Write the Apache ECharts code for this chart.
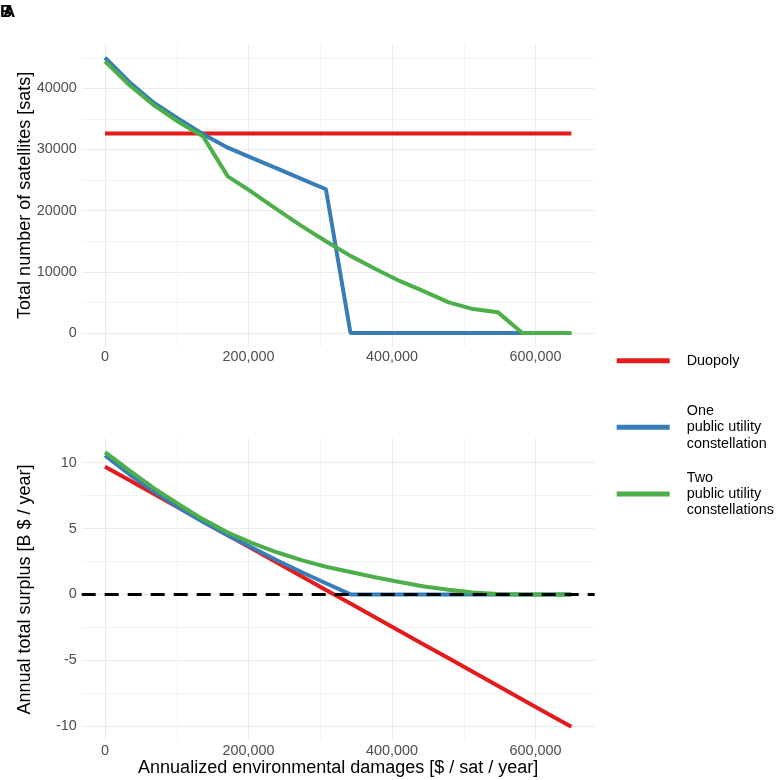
<!DOCTYPE html>
<html>
<head>
<meta charset="utf-8">
<script src="https://cdn.jsdelivr.net/npm/echarts@6/dist/echarts.min.js"></script>
<style>html,body{margin:0;padding:0;background:#fff}#c{width:777px;height:780px}</style>
</head>
<body>
<div id="c"></div>
<script>
// ---- data ----
const damages = [0, 34211, 68421, 102632, 136842, 171053, 205263, 239474, 273684, 307895,
  342105, 376316, 410526, 444737, 478947, 513158, 547368, 581579, 615789, 650000];
const seriesNames = ['Duopoly', 'One\npublic utility\nconstellation', 'Two\npublic utility\nconstellations'];
// Panel A: total satellites
const satsDuopoly = [32600, 32600, 32600, 32600, 32600, 32600, 32600, 32600, 32600, 32600,
  32600, 32600, 32600, 32600, 32600, 32600, 32600, 32600, 32600, 32600];
const satsOne = [45000, 41000, 37600, 35000, 32500, 30300, 28600, 26900, 25200, 23500,
  0, 0, 0, 0, 0, 0, 0, 0, 0, 0];
const satsTwo = [44400, 40500, 37200, 34500, 32100, 25600, 23000, 20200, 17500, 15000,
  12600, 10500, 8500, 6800, 5000, 3900, 3400, 0, 0, 0];
// Panel B: annual total surplus (B$/yr)
const surplusDuopoly = [9.7, 8.66, 7.62, 6.58, 5.54, 4.5, 3.46, 2.42, 1.38, 0.34,
  -0.69, -1.73, -2.77, -3.81, -4.85, -5.89, -6.93, -7.97, -9.01, -10.05];
const surplusOne = [10.55, 9.1, 7.8, 6.6, 5.5, 4.5, 3.55, 2.6, 1.7, 0.85,
  0, 0, 0, 0, 0, 0, 0, 0, 0, 0];
const surplusTwo = [10.8, 9.4, 8.05, 6.85, 5.7, 4.7, 3.9, 3.2, 2.6, 2.1,
  1.7, 1.3, 0.95, 0.6, 0.35, 0.15, 0.04, 0, 0, 0];
const refLineB = [0];
// ticks
const xTicks = [0, 200000, 400000, 600000];
const xGrid = [0, 100000, 200000, 300000, 400000, 500000, 600000];
const yTicksA = [0, 10000, 20000, 30000, 40000];
const yGridA = [0, 5000, 10000, 15000, 20000, 25000, 30000, 35000, 40000, 45000];
const yTicksB = [-10, -5, 0, 5, 10];
const yGridB = [-10, -7.5, -5, -2.5, 0, 2.5, 5, 7.5, 10];
const panelTags = ['A', 'B'];

// ---- chart ----
const colors = ['#E41A1C', '#377EB8', '#4DAF4A'];
const FONT = '"Liberation Sans", Arial, sans-serif';
const pair = arr => damages.map((x, i) => [x, arr[i]]);
const commas = v => String(v).replace(/\B(?=(\d{3})+(?!\d))/g, ',');
const plain = v => String(v);
const gridColors = ['#EBEBEB', '#F3F3F3'];

function xAxis(gi) {
  return {
    type: 'value', gridIndex: gi, min: -32500, max: 682500,
    axisLine: {show: false},
    axisTick: {show: false, customValues: xGrid},
    splitLine: {show: true, lineStyle: {color: gridColors, width: 1}},
    axisLabel: {customValues: xTicks, formatter: commas, color: '#4D4D4D', fontSize: 14.4, fontFamily: FONT, margin: 3.5},
    name: gi === 1 ? 'Annualized environmental damages [$ / sat / year]' : '',
    nameLocation: 'middle', nameGap: 18, nameMoveOverlap: false,
    nameTextStyle: {color: '#000', fontSize: 18, fontFamily: FONT}
  };
}
function yAxis(gi, min, max, ticks, grid, name) {
  return {
    type: 'value', gridIndex: gi, min: min, max: max,
    axisLine: {show: false},
    axisTick: {show: false, customValues: grid},
    splitLine: {show: true, lineStyle: {color: gridColors, width: 1}},
    axisLabel: {customValues: ticks, formatter: plain, color: '#4D4D4D', fontSize: 14.4, fontFamily: FONT, margin: 5},
    name: name, nameLocation: 'middle', nameGap: 48, nameMoveOverlap: false,
    nameTextStyle: {color: '#000', fontSize: 18, fontFamily: FONT}
  };
}
function line(name, data, xi, color, extra) {
  return Object.assign({
    type: 'line', name: name, xAxisIndex: xi, yAxisIndex: xi, data: pair(data),
    showSymbol: false, symbol: 'none', color: color,
    lineStyle: {width: 4, color: color, cap: 'butt'}, silent: true
  }, extra || {});
}
function legend(name, top) {
  return {
    data: [name], left: 616.7, top: top, orient: 'vertical', padding: 0,
    icon: 'rect', itemWidth: 53, itemHeight: 5, selectedMode: false,
    textStyle: {color: '#000', fontSize: 14.4, fontFamily: FONT, lineHeight: 16.3, padding: [0, 0, 0, 12]}
  };
}

const chart = echarts.init(document.getElementById('c'), null, {renderer: 'canvas'});
chart.setOption({
  animation: false,
  backgroundColor: '#fff',
  grid: [
    {left: 81.7, top: 44, width: 513, height: 302.7, outerBoundsMode: 'none', containLabel: false},
    {left: 81.7, top: 438.3, width: 513, height: 302.4, outerBoundsMode: 'none', containLabel: false}
  ],
  xAxis: [xAxis(0), xAxis(1)],
  yAxis: [
    yAxis(0, -2250, 47250, yTicksA, yGridA, 'Total number of satellites [sats]'),
    yAxis(1, -11.1, 11.85, yTicksB, yGridB, 'Annual total surplus [B $ / year]')
  ],
  legend: [
    legend(seriesNames[0], 352.5),
    legend(seriesNames[1], 402.8),
    legend(seriesNames[2], 469.5)
  ],
  series: [
    line(seriesNames[0], satsDuopoly, 0, colors[0]),
    line(seriesNames[1], satsOne, 0, colors[1]),
    line(seriesNames[2], satsTwo, 0, colors[2]),
    line(seriesNames[0], surplusDuopoly, 1, colors[0]),
    line(seriesNames[1], surplusOne, 1, colors[1]),
    line(seriesNames[2], surplusTwo, 1, colors[2], {
      markLine: {
        silent: true, symbol: ['none', 'none'], label: {show: false},
        lineStyle: {color: '#000', width: 3, type: [14, 9]},
        emphasis: {disabled: true},
        data: refLineB.map(v => ({yAxis: v}))
      }
    })
  ],
  graphic: panelTags.map((t, i) => ({
    type: 'text', left: i === 0 ? 3 : 0, top: 4, silent: true,
    style: {text: t, fontSize: 17, fontWeight: 'bold', fontFamily: FONT, fill: '#000'}
  }))
});
</script>
</body>
</html>
